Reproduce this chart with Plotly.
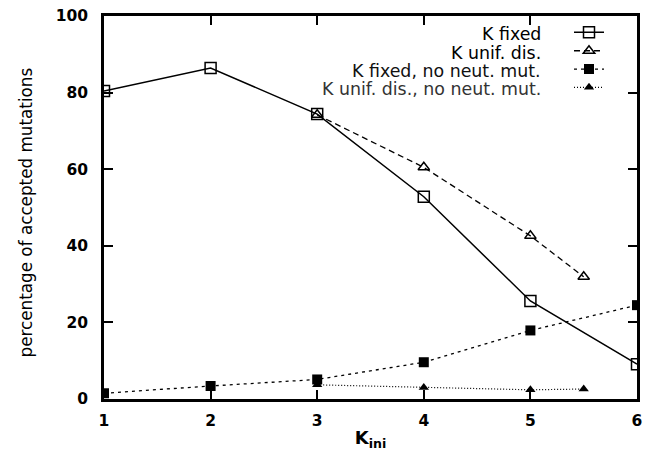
import plotly.graph_objects as go

# ---- data ----
x_full = [1, 2, 3, 4, 5, 6]
x_unif = [3, 4, 5, 5.5]

k_fixed = [80.4, 86.4, 74.4, 52.8, 25.6, 9.1]
k_unif = [74.2, 60.5, 42.6, 31.9]
k_fixed_noneut = [1.5, 3.4, 5.1, 9.6, 17.9, 24.5]
k_unif_noneut = [3.7, 3.0, 2.4, 2.6]

names = ["K fixed", "K unif. dis.", "K fixed, no neut. mut.", "K unif. dis., no neut. mut."]
x_ticks = [1, 2, 3, 4, 5, 6]
y_ticks = [0, 20, 40, 60, 80, 100]
x_title = "K<sub>ini</sub>"
y_title = "percentage of accepted mutations"

W, H = 658, 461
L, R, T, B = 104, 21, 16, 62
pw, ph = W - L - R, H - T - B

FONT = "DejaVu Sans"

fig = go.Figure()
fig.add_trace(go.Scatter(
    x=x_full, y=k_fixed, mode="lines+markers", name=" ",
    line=dict(color="black", width=1.5, dash="solid"),
    marker=dict(symbol="square-open", size=11, color="black", line=dict(width=1.5)),
    legend="legend"))
fig.add_trace(go.Scatter(
    x=x_unif, y=k_unif, mode="lines+markers", name=" ",
    line=dict(color="black", width=1.3, dash="6px,4px"),
    marker=dict(symbol="triangle-up-open", size=10, color="black", line=dict(width=1.5)),
    legend="legend2"))
fig.add_trace(go.Scatter(
    x=x_full, y=k_fixed_noneut, mode="lines+markers", name=" ",
    line=dict(color="black", width=1.3, dash="3px,4px"),
    marker=dict(symbol="square", size=10, color="black"),
    legend="legend3"))
fig.add_trace(go.Scatter(
    x=x_unif, y=k_unif_noneut, mode="lines+markers", name=" ",
    line=dict(color="black", width=1.2, dash="1px,2px"),
    marker=dict(symbol="triangle-up", size=9, color="black"),
    legend="legend4"))

def py2paper(py):
    return 1 - (py - T) / ph

def px2paper(px):
    return (px - L) / pw

row_py = [34.3, 52.7, 71.0, 89.3]
leg_shift = 1.5
txt_shift = 0
leg_x = px2paper(569)
txt_x = px2paper(542)
text_colors = ["#000000", "#000000", "#111111", "#333333"]

layout_legends = {}
for i, py in enumerate(row_py):
    key = "legend" if i == 0 else f"legend{i+1}"
    layout_legends[key] = dict(
        x=leg_x, y=py2paper(py - leg_shift), xanchor="left", yanchor="middle",
        bgcolor="rgba(0,0,0,0)", borderwidth=0,
        font=dict(family="Liberation Sans", size=17, color="black"),
        itemwidth=30,
    )

annotations = []
for i, py in enumerate(row_py):
    annotations.append(dict(
        x=txt_x, y=py2paper(py - txt_shift), xref="paper", yref="paper",
        text=names[i], showarrow=False, xanchor="right", yanchor="middle",
        borderpad=0,
        font=dict(family=FONT, size=17.4, color=text_colors[i])))

# y-axis title (placed like the reference, slightly below the plot centre)
annotations.append(dict(
    x=px2paper(25.5), y=py2paper(213), xref="paper", yref="paper",
    text=y_title, textangle=-90, showarrow=False,
    xanchor="center", yanchor="middle", borderpad=0,
    font=dict(family=FONT, size=16.8, color="black")))

fig.update_layout(
    width=W, height=H,
    margin=dict(l=L, r=R, t=T, b=B, pad=0, autoexpand=False),
    paper_bgcolor="white", plot_bgcolor="white",
    showlegend=True,
    annotations=annotations,
    **layout_legends,
)

fig.update_xaxes(
    range=[1, 6], tickvals=x_ticks, ticktext=[str(v) for v in x_ticks],
    showgrid=False, zeroline=False, automargin=False,
    showline=True, linecolor="black", linewidth=2.5, mirror="ticks",
    ticks="inside", ticklen=9, tickwidth=2, tickcolor="black",
    tickfont=dict(family=FONT, size=15.5, color="black", weight="bold"),
    ticklabelstandoff=6,
    title=dict(text=x_title, font=dict(family=FONT, size=18, color="black", weight="bold"), standoff=3),
)
fig.update_yaxes(
    range=[0, 100], tickvals=y_ticks, ticktext=[str(v) for v in y_ticks],
    showgrid=False, zeroline=False, automargin=False,
    showline=True, linecolor="black", linewidth=2.5, mirror="ticks",
    ticks="inside", ticklen=9, tickwidth=2, tickcolor="black",
    tickfont=dict(family=FONT, size=15.5, color="black", weight="bold"),
    ticklabelstandoff=10,
)

fig.write_html("out.html")
